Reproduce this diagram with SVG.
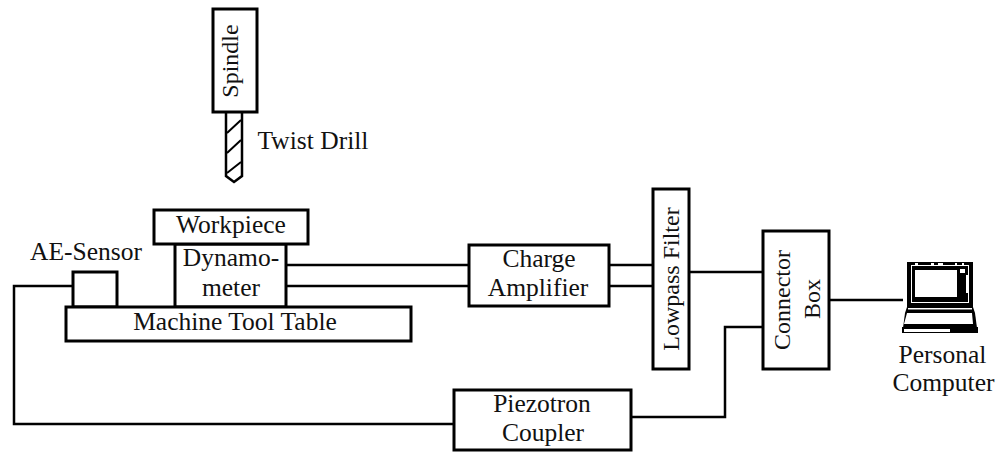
<svg xmlns="http://www.w3.org/2000/svg" width="1006" height="452" viewBox="0 0 1006 452">
<style>
text{font-family:"Liberation Serif","Times New Roman",serif;font-size:25.5px;fill:#111;text-anchor:middle}
text.v{font-size:24px}
.b{fill:#fff;stroke:#000;stroke-width:3}
.w{fill:none;stroke:#000;stroke-width:2.5}
.k{fill:#000;stroke:none}
.wf{fill:#fff;stroke:none}
</style>
<rect width="1006" height="452" fill="#fff"/>
<g id="connectors">
<path class="w" d="M73 286H14V424H455"/>
<path class="w" d="M286 265H469M286 286H469"/>
<path class="w" d="M609 265H653M609 286H653"/>
<path class="w" d="M690 272H763"/>
<path class="w" d="M763 327H725V417H631"/>
<path class="w" d="M829 300H903"/>
</g>
<g id="drill">
<path d="M226 113V176L234 182L242 176V113" fill="#fff" stroke="#000" stroke-width="2.5"/>
<path d="M227 133L241 120M227 153L241 140M227 173L241 162" fill="none" stroke="#000" stroke-width="2"/>
</g>
<g id="spindle">
<rect class="b" x="213" y="9" width="44" height="103"/>
<text class="v" transform="translate(238 61) rotate(-90)">Spindle</text>
</g>
<text id="twist-drill-label" x="313" y="149">Twist Drill</text>
<g id="dynamometer">
<rect class="b" x="175" y="244" width="111" height="63" stroke-width="2.5"/>
<text x="231" y="266">Dynamo-</text>
<text x="231" y="296">meter</text>
</g>
<g id="workpiece">
<rect class="b" x="154" y="210" width="154" height="34"/>
<text x="231" y="233">Workpiece</text>
</g>
<g id="ae-sensor">
<rect class="b" x="73" y="272" width="44" height="35" stroke-width="2.5"/>
<text x="86" y="260">AE-Sensor</text>
</g>
<g id="table">
<rect class="b" x="66" y="307" width="345" height="34"/>
<text x="235" y="330">Machine Tool Table</text>
</g>
<g id="charge-amplifier">
<rect class="b" x="469" y="245" width="140" height="61"/>
<text x="539" y="267">Charge</text>
<text x="538" y="296">Amplifier</text>
</g>
<g id="lowpass-filter">
<rect class="b" x="653" y="189" width="36" height="180"/>
<text class="v" transform="translate(679 279) rotate(-90)">Lowpass Filter</text>
</g>
<g id="connector-box">
<rect class="b" x="763" y="231" width="66" height="138"/>
<text class="v" transform="translate(790 300) rotate(-90)">Connector</text>
<text class="v" transform="translate(820 299) rotate(-90)">Box</text>
</g>
<g id="piezotron-coupler">
<rect class="b" x="454" y="390" width="177" height="60"/>
<text x="542" y="412">Piezotron</text>
<text x="543" y="441">Coupler</text>
</g>
<g id="personal-computer">
<rect class="k" x="907" y="262" width="66" height="45"/>
<rect class="wf" x="911" y="265" width="58" height="38"/>
<rect class="k" x="912" y="266" width="56" height="36"/>
<rect class="wf" x="915" y="270" width="42" height="27"/>
<rect class="wf" x="960" y="269" width="5" height="4"/>
<rect class="wf" x="966" y="275" width="2" height="18"/>
<rect class="wf" x="915" y="263" width="3" height="2"/><rect class="wf" x="931" y="263" width="3" height="2"/><rect class="wf" x="938" y="263" width="5" height="2"/><rect class="wf" x="955" y="263" width="2" height="2"/><rect class="wf" x="962" y="263" width="2" height="2"/>
<path class="k" d="M907 307H973L975 313L977 328H903L905 313Z"/>
<rect class="wf" x="908" y="308" width="64" height="1.5"/>
<path class="wf" d="M907 313H972L973 324H904Z"/>
<rect class="k" x="902" y="327" width="76" height="6"/>
<rect class="wf" x="904" y="329" width="46" height="3"/>
</g>
<text x="942.5" y="363">Personal</text>
<text x="943.5" y="391">Computer</text>
</svg>
